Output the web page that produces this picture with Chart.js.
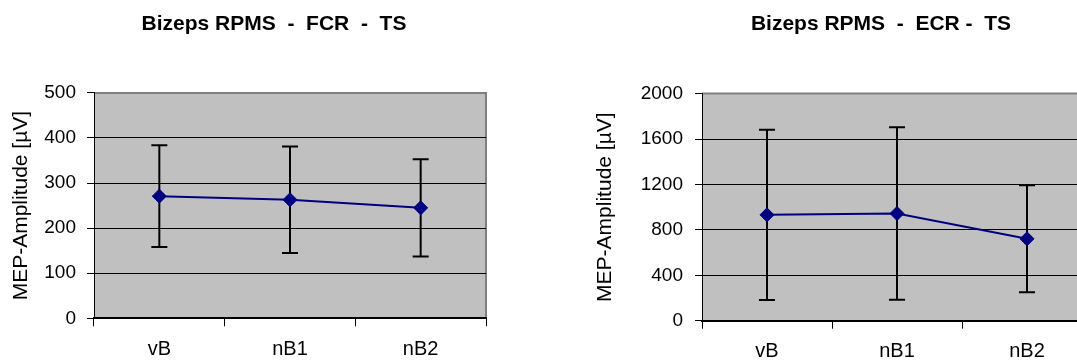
<!DOCTYPE html>
<html>
<head>
<meta charset="utf-8">
<script src="https://cdn.jsdelivr.net/npm/chart.js@4.4.1/dist/chart.umd.min.js"></script>
<style>
  html, body { margin: 0; padding: 0; background: #fff; overflow: hidden; width: 1077px; height: 360px; }
  .panel { position: absolute; top: 0; }
</style>
</head>
<body>
<canvas id="fcr" class="panel" width="548" height="360" style="left:0"></canvas>
<canvas id="ecr" class="panel" width="682" height="360" style="left:540px"></canvas>
<script>
// Data (mean +/- SD)
const categories = ['vB', 'nB1', 'nB2'];
const fcrMean = [271, 263, 245];
const fcrSd = [113, 118, 108];
const fcrTicks = [0, 100, 200, 300, 400, 500];
const ecrMean = [932, 944, 721];
const ecrSd = [750, 760, 471];
const ecrTicks = [0, 400, 800, 1200, 1600, 2000];

Chart.defaults.font.family = '"Liberation Sans", Arial, sans-serif';
Chart.defaults.color = '#000';

// Grey plot area with the darker frame on top and right
const plotFrame = {
  id: 'plotFrame',
  beforeDraw(chart) {
    const { ctx, chartArea: a } = chart;
    ctx.save();
    ctx.fillStyle = '#c0c0c0';
    ctx.fillRect(a.left, a.top, a.right - a.left, a.bottom - a.top);
    ctx.strokeStyle = '#808080';
    ctx.lineWidth = 2;
    ctx.beginPath();
    ctx.moveTo(a.left, a.top);
    ctx.lineTo(a.right, a.top);
    ctx.lineTo(a.right, a.bottom);
    ctx.stroke();
    ctx.restore();
  }
};

// Error bars, placed through the chart's own scales
const errorBars = {
  id: 'errorBars',
  beforeDatasetsDraw(chart, args, opts) {
    const { ctx, scales: { x, y } } = chart;
    const data = chart.data.datasets[0].data;
    ctx.save();
    ctx.strokeStyle = '#000';
    ctx.lineWidth = 2;
    data.forEach((v, i) => {
      const px = x.getPixelForValue(i);
      const hi = y.getPixelForValue(v + opts.sd[i]);
      const lo = y.getPixelForValue(v - opts.sd[i]);
      ctx.beginPath();
      ctx.moveTo(px, hi); ctx.lineTo(px, lo);
      ctx.moveTo(px - 8, hi); ctx.lineTo(px + 8, hi);
      ctx.moveTo(px - 8, lo); ctx.lineTo(px + 8, lo);
      ctx.stroke();
    });
    ctx.restore();
  }
};

function makeChart(id, title, mean, sd, ticks, box) {
  const max = ticks[ticks.length - 1];
  return new Chart(document.getElementById(id), {
    type: 'line',
    data: {
      labels: categories,
      datasets: [{
        data: mean,
        borderColor: '#000080',
        borderWidth: 2,
        pointStyle: 'rectRot',
        pointRadius: 7,
        pointBackgroundColor: '#000080',
        pointBorderColor: '#000080',
        pointBorderWidth: 1
      }]
    },
    options: {
      responsive: false,
      animation: false,
      layout: { padding: 0 },
      plugins: {
        legend: { display: false },
        tooltip: { enabled: false },
        title: {
          display: true,
          text: title,
          color: '#000',
          font: { size: 21, weight: 'bold' },
          padding: { top: 12, bottom: box.titleGap }
        },
        errorBars: { sd }
      },
      scales: {
        x: {
          offset: true,
          grid: { offset: true, drawOnChartArea: false, tickLength: 8, tickColor: '#000' },
          border: { color: '#000', width: 2 },
          ticks: { padding: 11, font: { size: 20 }, color: '#000' },
          afterFit: s => { s.height = box.xHeight; }
        },
        y: {
          min: 0,
          max: max,
          afterBuildTicks: s => { s.ticks = ticks.map(v => ({ value: v })); },
          grid: {
            color: c => (c.tick && c.tick.value === max) ? 'rgba(0,0,0,0)' : '#000',
            tickLength: 7,
            tickColor: '#000'
          },
          border: { color: '#000', width: 1 },
          ticks: { padding: box.yPad, font: { size: 19 }, color: '#000', callback: v => String(v) },
          title: {
            display: true,
            text: 'MEP-Amplitude [µV]',
            color: '#000',
            font: { size: 21 },
            padding: { top: box.axisTitlePad, bottom: 0 }
          },
          afterFit: s => { s.width = box.yWidth; }
        },
        // empty axis that only reserves room on the right, so the title centres like the original
        pad: {
          type: 'linear',
          position: 'right',
          grid: { display: false },
          border: { display: false },
          ticks: { display: false },
          afterFit: s => { s.width = box.rightGap; }
        }
      }
    },
    plugins: [plotFrame, errorBars]
  });
}

makeChart('fcr', 'Bizeps RPMS  -  FCR  -  TS', fcrMean, fcrSd, fcrTicks,
  { titleGap: 55.7, xHeight: 41.7, yWidth: 94, yPad: 11, axisTitlePad: 8.4, rightGap: 62 });
makeChart('ecr', 'Bizeps RPMS  -  ECR -  TS', ecrMean, ecrSd, ecrTicks,
  { titleGap: 56.4, xHeight: 39.3, yWidth: 162, yPad: 12, axisTitlePad: 52.4, rightGap: 130 });
</script>
</body>
</html>
